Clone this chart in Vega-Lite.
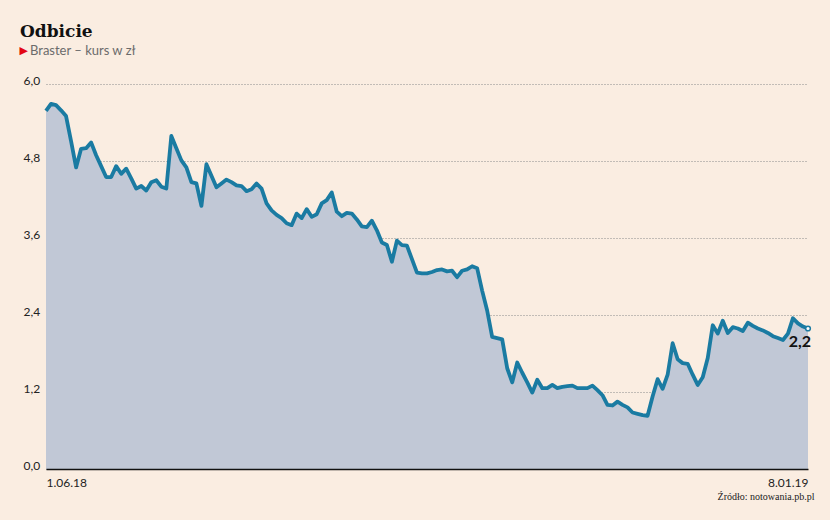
{
 "$schema": "https://vega.github.io/schema/vega-lite/v6.json",
 "width": 762,
 "height": 385,
 "autosize": {"type": "none"},
 "padding": {"left": 46, "top": 84, "right": 22, "bottom": 51},
 "background": "#FAEDE1",
 "config": {
  "view": {"stroke": null},
  "font": "Lato",
  "locale": {"number": {"decimal": ",", "thousands": "\u00a0", "grouping": [3], "currency": ["", " zł"]}}
 },
 "title": {
  "text": "Odbicie",
  "subtitle": "\u2800Braster – kurs w zł",
  "anchor": "start",
  "frame": "group",
  "dx": -26,
  "offset": -15,
  "font": "DejaVu Serif",
  "fontSize": 17,
  "fontWeight": "bold",
  "color": "#111111",
  "subtitleFont": "Lato",
  "subtitleFontSize": 13,
  "subtitleColor": "#6B6B6B",
  "subtitlePadding": 4
 },
 "data": {"values": [
  {"sesja":0,"kurs":5.58},{"sesja":1,"kurs":5.69},{"sesja":2,"kurs":5.67},{"sesja":3,"kurs":5.59},{"sesja":4,"kurs":5.50},
  {"sesja":5,"kurs":5.11},{"sesja":6,"kurs":4.70},{"sesja":7,"kurs":4.99},{"sesja":8,"kurs":5.00},{"sesja":9,"kurs":5.09},
  {"sesja":10,"kurs":4.89},{"sesja":11,"kurs":4.72},{"sesja":12,"kurs":4.55},{"sesja":13,"kurs":4.55},{"sesja":14,"kurs":4.72},
  {"sesja":15,"kurs":4.60},{"sesja":16,"kurs":4.68},{"sesja":17,"kurs":4.53},{"sesja":18,"kurs":4.37},{"sesja":19,"kurs":4.41},
  {"sesja":20,"kurs":4.34},{"sesja":21,"kurs":4.47},{"sesja":22,"kurs":4.50},{"sesja":23,"kurs":4.40},{"sesja":24,"kurs":4.37},
  {"sesja":25,"kurs":5.19},{"sesja":26,"kurs":5.00},{"sesja":27,"kurs":4.81},{"sesja":28,"kurs":4.70},{"sesja":29,"kurs":4.47},
  {"sesja":30,"kurs":4.45},{"sesja":31,"kurs":4.10},{"sesja":32,"kurs":4.75},{"sesja":33,"kurs":4.57},{"sesja":34,"kurs":4.39},
  {"sesja":35,"kurs":4.45},{"sesja":36,"kurs":4.51},{"sesja":37,"kurs":4.47},{"sesja":38,"kurs":4.42},{"sesja":39,"kurs":4.41},
  {"sesja":40,"kurs":4.33},{"sesja":41,"kurs":4.36},{"sesja":42,"kurs":4.45},{"sesja":43,"kurs":4.37},{"sesja":44,"kurs":4.14},
  {"sesja":45,"kurs":4.03},{"sesja":46,"kurs":3.96},{"sesja":47,"kurs":3.91},{"sesja":48,"kurs":3.83},{"sesja":49,"kurs":3.80},
  {"sesja":50,"kurs":3.98},{"sesja":51,"kurs":3.91},{"sesja":52,"kurs":4.05},{"sesja":53,"kurs":3.93},{"sesja":54,"kurs":3.97},
  {"sesja":55,"kurs":4.14},{"sesja":56,"kurs":4.19},{"sesja":57,"kurs":4.31},{"sesja":58,"kurs":4.01},{"sesja":59,"kurs":3.94},
  {"sesja":60,"kurs":3.99},{"sesja":61,"kurs":3.98},{"sesja":62,"kurs":3.89},{"sesja":63,"kurs":3.78},{"sesja":64,"kurs":3.77},
  {"sesja":65,"kurs":3.87},{"sesja":66,"kurs":3.72},{"sesja":67,"kurs":3.53},{"sesja":68,"kurs":3.49},{"sesja":69,"kurs":3.23},
  {"sesja":70,"kurs":3.56},{"sesja":71,"kurs":3.49},{"sesja":72,"kurs":3.48},{"sesja":73,"kurs":3.27},{"sesja":74,"kurs":3.06},
  {"sesja":75,"kurs":3.05},{"sesja":76,"kurs":3.05},{"sesja":77,"kurs":3.07},{"sesja":78,"kurs":3.10},{"sesja":79,"kurs":3.11},
  {"sesja":80,"kurs":3.08},{"sesja":81,"kurs":3.09},{"sesja":82,"kurs":2.99},{"sesja":83,"kurs":3.09},{"sesja":84,"kurs":3.11},
  {"sesja":85,"kurs":3.16},{"sesja":86,"kurs":3.13},{"sesja":87,"kurs":2.78},{"sesja":88,"kurs":2.47},{"sesja":89,"kurs":2.06},
  {"sesja":90,"kurs":2.04},{"sesja":91,"kurs":2.02},{"sesja":92,"kurs":1.57},{"sesja":93,"kurs":1.35},{"sesja":94,"kurs":1.66},
  {"sesja":95,"kurs":1.50},{"sesja":96,"kurs":1.35},{"sesja":97,"kurs":1.19},{"sesja":98,"kurs":1.39},{"sesja":99,"kurs":1.26},
  {"sesja":100,"kurs":1.26},{"sesja":101,"kurs":1.31},{"sesja":102,"kurs":1.26},{"sesja":103,"kurs":1.28},{"sesja":104,"kurs":1.29},
  {"sesja":105,"kurs":1.30},{"sesja":106,"kurs":1.26},{"sesja":107,"kurs":1.26},{"sesja":108,"kurs":1.26},{"sesja":109,"kurs":1.30},
  {"sesja":110,"kurs":1.23},{"sesja":111,"kurs":1.15},{"sesja":112,"kurs":1.00},{"sesja":113,"kurs":0.99},{"sesja":114,"kurs":1.05},
  {"sesja":115,"kurs":1.00},{"sesja":116,"kurs":0.96},{"sesja":117,"kurs":0.88},{"sesja":118,"kurs":0.86},{"sesja":119,"kurs":0.84},
  {"sesja":120,"kurs":0.83},{"sesja":121,"kurs":1.13},{"sesja":122,"kurs":1.40},{"sesja":123,"kurs":1.25},{"sesja":124,"kurs":1.47},
  {"sesja":125,"kurs":1.96},{"sesja":126,"kurs":1.71},{"sesja":127,"kurs":1.65},{"sesja":128,"kurs":1.64},{"sesja":129,"kurs":1.47},
  {"sesja":130,"kurs":1.31},{"sesja":131,"kurs":1.43},{"sesja":132,"kurs":1.73},{"sesja":133,"kurs":2.24},{"sesja":134,"kurs":2.11},
  {"sesja":135,"kurs":2.31},{"sesja":136,"kurs":2.12},{"sesja":137,"kurs":2.21},{"sesja":138,"kurs":2.19},{"sesja":139,"kurs":2.15},
  {"sesja":140,"kurs":2.28},{"sesja":141,"kurs":2.23},{"sesja":142,"kurs":2.19},{"sesja":143,"kurs":2.16},{"sesja":144,"kurs":2.12},
  {"sesja":145,"kurs":2.07},{"sesja":146,"kurs":2.04},{"sesja":147,"kurs":2.01},{"sesja":148,"kurs":2.11},{"sesja":149,"kurs":2.35},
  {"sesja":150,"kurs":2.27},{"sesja":151,"kurs":2.22},{"sesja":152,"kurs":2.19}
 ]},
 "encoding": {
  "x": {
   "field": "sesja", "type": "quantitative",
   "scale": {"domain": [0, 152], "nice": false, "zero": false},
   "axis": {
    "values": [0, 152],
    "labelExpr": "datum.value == 0 ? '1.06.18' : '8.01.19'",
    "labelFlush": true,
    "ticks": false, "grid": false,
    "domain": true, "domainColor": "#111111", "domainWidth": 1.5,
    "labelFont": "Lato", "labelFontSize": 12, "labelColor": "#222222", "labelPadding": 8,
    "zindex": 1,
    "title": "Źródło: notowania.pb.pl",
    "titleFont": "Liberation Sans Narrow", "titleFontSize": 10, "titleFontWeight": "normal", "titleColor": "#222222",
    "titleAnchor": "end", "titleAlign": "right", "titleX": 768, "titleY": 30, "titleBaseline": "alphabetic"
   }
  },
  "y": {
   "field": "kurs", "type": "quantitative",
   "scale": {"domain": [0, 6], "nice": false},
   "axis": {
    "values": [0, 1.2, 2.4, 3.6, 4.8, 6],
    "format": ".1f",
    "grid": true, "gridColor": "#8A8A8A", "gridDash": [1, 2], "gridWidth": 1,
    "ticks": false, "domain": false,
    "labelAlign": "left", "labelPadding": 23, "labelBaseline": "alphabetic",
    "labelFont": "Lato", "labelFontSize": 12, "labelColor": "#222222",
    "title": "▶", "titleAngle": 0, "titleColor": "#E30613", "titleFontSize": 11, "titleFont": "DejaVu Sans",
    "titleX": -27, "titleY": -34, "titleAlign": "left", "titleBaseline": "middle"
   }
  }
 },
 "layer": [
  {"mark": {"type": "area", "color": "#C1C8D6", "opacity": 1}},
  {"mark": {"type": "line", "color": "#1A7BA2", "strokeWidth": 3.8, "strokeJoin": "round", "strokeCap": "butt"}},
  {"transform": [{"filter": "datum.sesja == 152"}],
   "mark": {"type": "point", "filled": true, "fill": "#FFFFFF", "stroke": "#1A7BA2", "strokeWidth": 1.5, "size": 22, "opacity": 1}},
  {"transform": [{"filter": "datum.sesja == 152"}],
   "mark": {"type": "text", "font": "Lato", "fontSize": 16, "fontWeight": "bold", "color": "#111111", "align": "right", "baseline": "alphabetic", "dx": 3, "dy": 19},
   "encoding": {"text": {"field": "kurs", "type": "quantitative", "format": ".1f"}}}
 ]
}
